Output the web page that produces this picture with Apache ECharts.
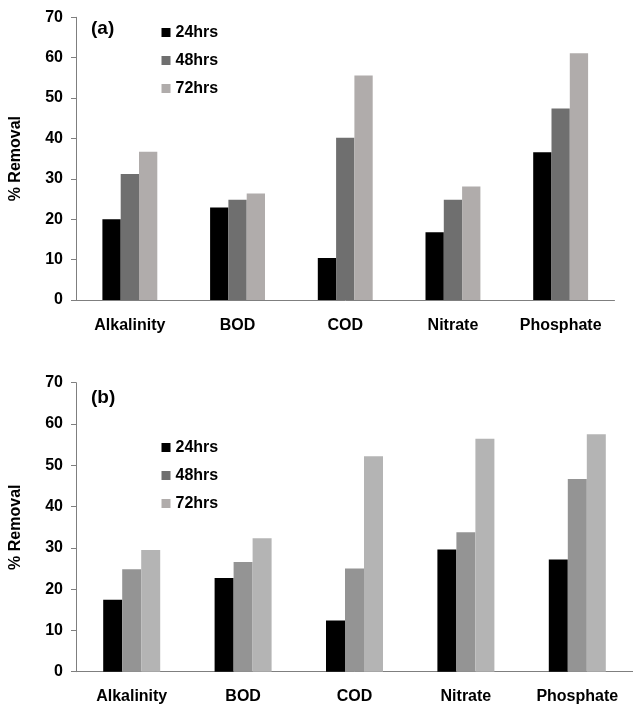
<!DOCTYPE html>
<html>
<head>
<meta charset="utf-8">
<script src="https://cdn.jsdelivr.net/npm/echarts@6/dist/echarts.min.js"></script>
<style>html,body{margin:0;padding:0;background:#fff}#c{width:633px;height:706px}</style>
</head>
<body>
<div id="c"></div>
<script>
var categories = ['Alkalinity', 'BOD', 'COD', 'Nitrate', 'Phosphate'];
var seriesNames = ['24hrs', '48hrs', '72hrs'];
var yTicks = [0, 10, 20, 30, 40, 50, 60, 70];
// Panel (a)
var a24 = [20.0, 22.9, 10.4, 16.8, 36.6];
var a48 = [31.2, 24.8, 40.2, 24.8, 47.4];
var a72 = [36.7, 26.4, 55.6, 28.1, 61.1];
// Panel (b)
var b24 = [17.4, 22.7, 12.4, 29.6, 27.2];
var b48 = [24.8, 26.6, 25.0, 33.8, 46.7];
var b72 = [29.5, 32.3, 52.2, 56.4, 57.5];

var FONT = "'Liberation Sans', Arial, sans-serif";
var colorsA = ['#000000', '#6f6f6f', '#b0acab'];
var colorsB = ['#000000', '#949494', '#b4b4b4'];

function xAx(gi, margin) {
  return {
    type: 'category', gridIndex: gi, data: categories,
    axisLine: { show: true, lineStyle: { color: '#7f7f7f', width: 1 } },
    axisTick: { show: false },
    axisLabel: { color: '#000', fontWeight: 'bold', fontSize: 16, fontFamily: FONT, margin: margin, interval: 0 }
  };
}
function yAx(gi) {
  return {
    type: 'value', gridIndex: gi, min: yTicks[0], max: yTicks[yTicks.length - 1], interval: 10,
    name: '% Removal', nameLocation: 'middle', nameRotate: 90, nameGap: 52,
    nameTextStyle: { color: '#000', fontWeight: 'bold', fontSize: 16, fontFamily: FONT },
    axisLine: { show: true, lineStyle: { color: '#7f7f7f', width: 1 } },
    axisTick: { show: true, inside: false, length: 5, lineStyle: { color: '#7f7f7f' } },
    splitLine: { show: false },
    axisLabel: { color: '#000', fontWeight: 'bold', fontSize: 16, fontFamily: FONT, margin: 13 }
  };
}
function bars(gi, datas, colors, bw) {
  return datas.map(function (d, i) {
    return {
      name: seriesNames[i], type: 'bar', xAxisIndex: gi, yAxisIndex: gi,
      data: d, barWidth: bw, barGap: '0%',
      itemStyle: { color: colors[i] }, silent: true
    };
  });
}
function legend(top) {
  return {
    orient: 'vertical', left: 161.5, top: top, padding: 0,
    itemWidth: 9, itemHeight: 9, itemGap: 12, icon: 'rect', itemStyle: { borderWidth: 0 },
    itemTextGap: 3,
    textStyle: { color: '#000', fontWeight: 'bold', fontSize: 16, fontFamily: FONT, lineHeight: 16 },
    data: seriesNames.map(function (n, i) { return { name: n, itemStyle: { color: colorsA[i] } }; })
  };
}

var chart = echarts.init(document.getElementById('c'), null, { renderer: 'canvas' });
chart.setOption({
  animation: false,
  backgroundColor: '#fff',
  grid: [
    { left: 68, top: 17.3, width: 546.5, height: 282.7 },
    { left: 68, top: 382.7, width: 571.5, height: 289 }
  ],
  xAxis: [xAx(0, 18), xAx(1, 17)],
  yAxis: [yAx(0), yAx(1)],
  legend: [legend(24.5), legend(439.5)],
  graphic: [
    { type: 'text', left: 91, top: 19.5, style: { text: '(a)', font: 'bold 19px ' + FONT, fill: '#000' } },
    { type: 'text', left: 91, top: 388.5, style: { text: '(b)', font: 'bold 19px ' + FONT, fill: '#000' } }
  ],
  series: bars(0, [a24, a48, a72], colorsA, 18.3).concat(bars(1, [b24, b48, b72], colorsB, 19))
});
</script>
</body>
</html>
